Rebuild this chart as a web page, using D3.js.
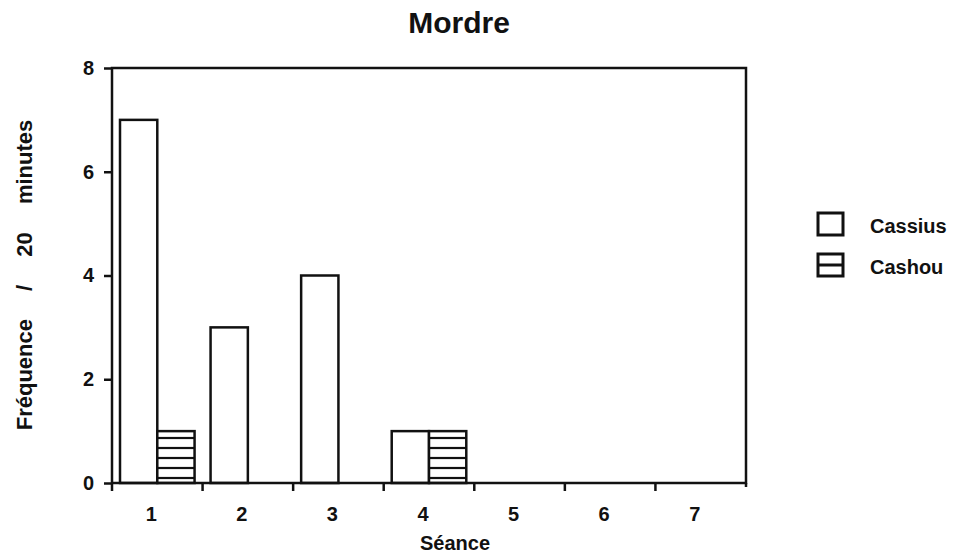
<!DOCTYPE html>
<html><head><meta charset="utf-8">
<script src="https://cdn.jsdelivr.net/npm/d3@7"></script>
<style>body{margin:0;background:#fff}svg{display:block}text{font-family:"Liberation Sans",Arial,sans-serif;fill:#111}</style>
</head><body>
<script>
const categories = ["1","2","3","4","5","6","7"];
const seriesNames = ["Cassius","Cashou"];
const cassius = [7,3,4,1,0,0,0];
const cashou = [1,0,0,1,0,0,0];
const yTicks = [0,2,4,6,8];

const W=957,H=557;
const svg=d3.select("body").append("svg").attr("width",W).attr("height",H);
const defs=svg.append("defs");
const pat=defs.append("pattern").attr("id","hatch").attr("patternUnits","userSpaceOnUse")
  .attr("width",10).attr("height",10).attr("y",483);
pat.append("rect").attr("width",10).attr("height",10).attr("fill","#fff");
pat.append("line").attr("x1",0).attr("x2",10).attr("y1",5).attr("y2",5).attr("stroke","#111").attr("stroke-width",2.2);

const L=112,R=746,T=68,B=483;
const x0=d3.scaleBand().domain(categories).range([L,R]);
const x1=d3.scaleBand().domain(seriesNames).range([8,x0.bandwidth()-8]);
const y=d3.scaleLinear().domain([0,8]).range([B,T]);
const data=categories.map((c,i)=>({c,vals:[{k:"Cassius",v:cassius[i]},{k:"Cashou",v:cashou[i]}]}));

const g=svg.append("g");
g.selectAll("g.grp").data(data).join("g").attr("transform",d=>`translate(${x0(d.c)},0)`)
 .selectAll("rect").data(d=>d.vals.filter(e=>e.v>0)).join("rect")
 .attr("x",d=>x1(d.k)).attr("width",x1.bandwidth())
 .attr("y",d=>y(d.v)).attr("height",d=>y(0)-y(d.v))
 .attr("fill",d=>d.k==="Cashou"?"url(#hatch)":"#fff")
 .attr("stroke","#111").attr("stroke-width",2.5);

// frame
svg.append("path").attr("d",`M${L},${T}H${R}V${B}H${L}Z`).attr("fill","none").attr("stroke","#111").attr("stroke-width",2.5);

const FF="Liberation Sans, Arial, sans-serif";
// y axis
const ya=svg.append("g").attr("transform",`translate(${L},0)`)
 .call(d3.axisLeft(y).tickValues(yTicks).tickSize(8).tickPadding(10).tickFormat(d3.format("d")));
ya.select(".domain").remove();
ya.selectAll("line").attr("stroke","#111").attr("stroke-width",2.5);
ya.selectAll("text").attr("font-size",20).attr("font-weight","bold").attr("fill","#111").style("font-family",FF);

// x axis: ticks at band boundaries, labels at centers
const xa=svg.append("g").attr("transform",`translate(0,${B})`)
 .call(d3.axisBottom(x0).tickSize(0).tickPadding(24));
xa.select(".domain").remove();
xa.selectAll("text").attr("font-size",20).attr("font-weight","bold").attr("fill","#111").attr("dx",-6).style("font-family",FF);
svg.append("g").selectAll("line").data(categories.concat(["end"])).join("line")
 .attr("x1",(d,i)=>i<categories.length?x0(d):R).attr("x2",(d,i)=>i<categories.length?x0(d):R)
 .attr("y1",B).attr("y2",(d,i)=>i<categories.length?B+8:B+4).attr("stroke","#111").attr("stroke-width",2.5);

// title & labels
svg.append("text").attr("x",459).attr("y",33).attr("text-anchor","middle").attr("font-size",30).attr("font-weight","bold").text("Mordre");
svg.append("text").attr("x",420).attr("y",550).attr("text-anchor","start").attr("font-size",20).attr("font-weight","bold").text("Séance");
svg.append("text").attr("transform","translate(32,275) rotate(-90)").attr("text-anchor","middle")
 .attr("font-size",22).attr("font-weight","bold").attr("word-spacing",22).text("Fréquence / 20 minutes");

// legend
const leg=svg.append("g").selectAll("g").data(seriesNames).join("g").attr("transform",(d,i)=>`translate(818,${213+i*41})`);
leg.append("rect").attr("width",25).attr("height",22).attr("fill","#fff").attr("stroke","#111").attr("stroke-width",3);
leg.filter(d=>d==="Cashou").append("line").attr("x1",0).attr("x2",25).attr("y1",11).attr("y2",11).attr("stroke","#111").attr("stroke-width",3);
leg.append("text").attr("x",52).attr("y",20).attr("font-size",20).attr("font-weight","bold").text(d=>d);
</script>
</body></html>
